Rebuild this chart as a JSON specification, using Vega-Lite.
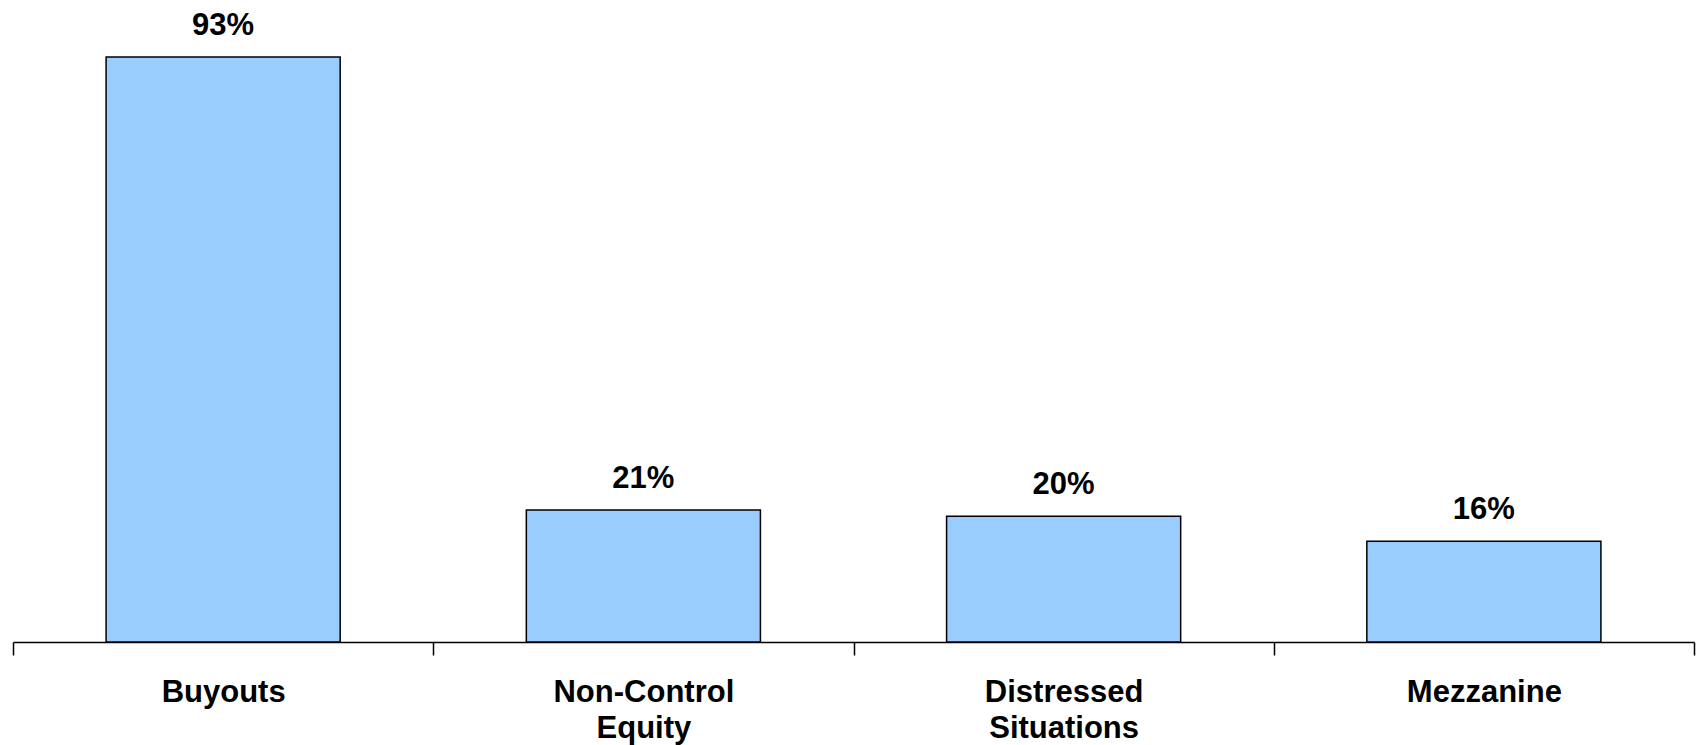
{
  "$schema": "https://vega.github.io/schema/vega-lite/v6.json",
  "autosize": {"type": "none"},
  "padding": {"left": 13, "top": 13, "right": 4, "bottom": 103},
  "width": 1681,
  "height": 629,
  "background": "white",
  "config": {
    "view": {"stroke": null},
    "font": "Liberation Sans"
  },
  "data": {
    "values": [
      {"strategy": "Buyouts", "share": 0.93},
      {"strategy": "Non-Control Equity", "share": 0.21},
      {"strategy": "Distressed Situations", "share": 0.20},
      {"strategy": "Mezzanine", "share": 0.16}
    ]
  },
  "encoding": {
    "x": {
      "field": "strategy",
      "type": "nominal",
      "sort": null,
      "scale": {"paddingInner": 0, "paddingOuter": 0},
      "axis": {
        "title": null,
        "labelAngle": 0,
        "labelFont": "Liberation Sans",
        "labelFontSize": 31,
        "labelFontWeight": "bold",
        "labelColor": "black",
        "labelBaseline": "top",
        "labelLineHeight": 36,
        "labelPadding": 22,
        "labelLimit": 0,
        "labelExpr": "split(datum.label, ' ')",
        "tickBand": "extent",
        "tickSize": 13,
        "tickWidth": 1.5,
        "tickColor": "black",
        "domainColor": "black",
        "domainWidth": 1.5,
        "grid": false
      }
    },
    "y": {
      "field": "share",
      "type": "quantitative",
      "scale": {"domain": [0, 1]},
      "axis": null
    }
  },
  "layer": [
    {
      "mark": {
        "type": "bar",
        "width": {"band": 0.557},
        "fill": "#99CCFF",
        "stroke": "black",
        "strokeWidth": 1.5
      }
    },
    {
      "mark": {
        "type": "text",
        "baseline": "alphabetic",
        "dy": -22,
        "font": "Liberation Sans",
        "fontSize": 31,
        "fontWeight": "bold",
        "color": "black"
      },
      "encoding": {
        "text": {"field": "share", "type": "quantitative", "format": ".0%"}
      }
    }
  ]
}
